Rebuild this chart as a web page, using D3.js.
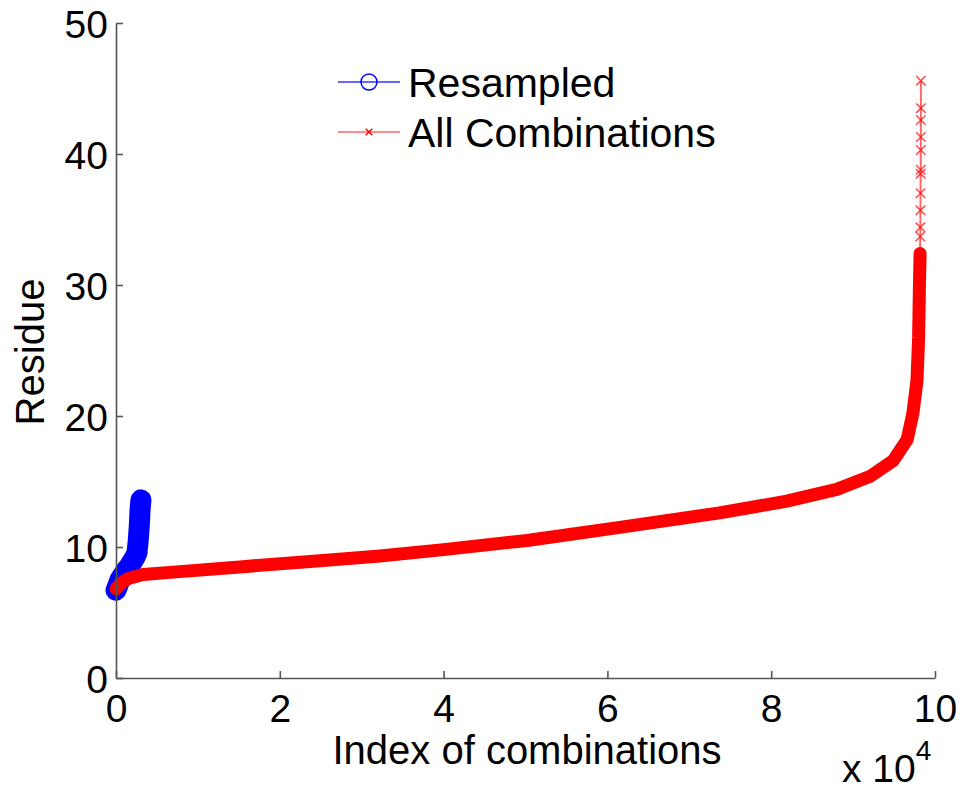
<!DOCTYPE html>
<html>
<head>
<meta charset="utf-8">
<script src="https://cdn.jsdelivr.net/npm/d3@7"></script>
<style>
  body { margin: 0; background: #fff; }
  text { font-family: "Liberation Sans", Arial, Helvetica, sans-serif; fill: #000; }
</style>
</head>
<body>
<div id="chart"></div>
<script>
// Resampled residues (sorted), index of combination
const resampledIdx = [0, 250, 490, 850, 1220, 1600, 1950, 2300, 2560, 2700, 2810, 2880, 2930, 3000, 3050];
const resampledVal = [6.7, 7.1, 7.5, 7.85, 8.2, 8.5, 8.85, 9.2, 9.55, 10.4, 11.3, 12.0, 12.8, 13.3, 13.6];

// All combinations residues (sorted)
const allIdx = [0, 500, 1500, 3300, 7400, 15500, 23700, 31900, 40000, 50200, 61500, 73700, 81900,
  88000, 92100, 94900, 96600, 97300, 97800, 98000, 98100, 98180, 98200, 98215, 98225, 98235,
  98245, 98255, 98262, 98268, 98273, 98277, 98280];
const allVal = [6.8, 7.2, 7.6, 7.9, 8.1, 8.5, 8.9, 9.3, 9.8, 10.5, 11.5, 12.6, 13.5,
  14.4, 15.4, 16.6, 18.2, 20.2, 22.7, 26.0, 30.0, 32.4, 33.7, 34.4, 35.7, 37.0,
  38.5, 38.8, 40.3, 41.3, 42.6, 43.5, 45.6];

const xTicks = [0, 20000, 40000, 60000, 80000, 100000];
const yTicks = [0, 10, 20, 30, 40, 50];
const seriesNames = ['Resampled', 'All Combinations'];

const width = 962, height = 791;
const margin = { top: 23, right: 27, bottom: 113, left: 116 };
const fontSize = 39;

const x = d3.scaleLinear().domain([0, 100000]).range([margin.left, width - margin.right]);
const y = d3.scaleLinear().domain([0, 50]).range([height - margin.bottom, margin.top]);

const svg = d3.select('#chart').append('svg')
    .attr('width', width)
    .attr('height', height);

const resampled = resampledIdx.map((d, i) => ({ x: d, y: resampledVal[i] }));
const all = allIdx.map((d, i) => ({ x: d, y: allVal[i] }));

const line = d3.line()
    .x(d => x(d.x))
    .y(d => y(d.y));

// Resampled: dense circles drawn as a thick band
svg.append('path')
    .datum(resampled)
    .attr('d', line)
    .attr('fill', 'none')
    .attr('stroke', '#0000ff')
    .attr('stroke-width', 21)
    .attr('stroke-linecap', 'round')
    .attr('stroke-linejoin', 'round');

svg.selectAll('circle.res')
    .data(resampled)
    .enter().append('circle')
    .attr('class', 'res')
    .attr('cx', d => x(d.x))
    .attr('cy', d => y(d.y))
    .attr('r', 9)
    .attr('fill', 'none')
    .attr('stroke', '#0000ff')
    .attr('stroke-width', 1.5);

// All combinations: dense markers as a band, sparse tail as markers
svg.append('path')
    .datum(all.filter(d => d.y <= 32.4))
    .attr('d', line)
    .attr('fill', 'none')
    .attr('stroke', '#ff0000')
    .attr('stroke-width', 13)
    .attr('stroke-linecap', 'round')
    .attr('stroke-linejoin', 'round');

svg.append('path')
    .datum(all)
    .attr('d', line)
    .attr('fill', 'none')
    .attr('stroke', '#ff0000')
    .attr('stroke-opacity', 0.6)
    .attr('stroke-width', 2);

const cross = d3.symbol().type(d3.symbolX).size(60);
svg.selectAll('path.cross')
    .data(all.filter(d => d.y > 32.4))
    .enter().append('path')
    .attr('class', 'cross')
    .attr('d', cross)
    .attr('transform', d => 'translate(' + x(d.x) + ',' + y(d.y) + ')')
    .attr('fill', 'none')
    .attr('stroke', '#ff0000')
    .attr('stroke-opacity', 0.7)
    .attr('stroke-width', 1.5);

// Axes (MATLAB style: ticks inside, box off)
const xAxis = svg.append('g')
    .attr('transform', 'translate(0,' + y(0) + ')')
    .call(d3.axisBottom(x).tickValues(xTicks).tickSizeInner(-7).tickSizeOuter(0)
      .tickFormat(d => d / 10000).tickPadding(16));
const yAxis = svg.append('g')
    .attr('transform', 'translate(' + x(0) + ',0)')
    .call(d3.axisLeft(y).tickValues(yTicks).tickSizeInner(-7).tickSizeOuter(0).tickPadding(8));

[xAxis, yAxis].forEach(g => {
  g.select('.domain').attr('stroke', '#555').attr('stroke-width', 1.6);
  g.selectAll('.tick line').attr('stroke', '#555').attr('stroke-width', 1.6);
  g.selectAll('.tick text')
    .style('font-size', fontSize + 'px')
    .style('font-family', '"Liberation Sans", Arial, sans-serif')
    .attr('fill', '#000');
});
yAxis.selectAll('.tick text').attr('x', -8).attr('dy', '0.36em');
xAxis.selectAll('.tick text').attr('dy', '0.71em');

// Axis labels
svg.append('text')
    .attr('x', 527)
    .attr('y', 764)
    .style('text-anchor', 'middle')
    .style('font-size', '40px')
    .text('Index of combinations');

svg.append('text')
    .attr('transform', 'translate(44,352) rotate(-90)')
    .style('text-anchor', 'middle')
    .style('font-size', '40px')
    .text('Residue');

// x 10^4 multiplier
const mult = svg.append('text')
    .attr('x', 842)
    .attr('y', 782)
    .style('font-size', fontSize + 'px');
mult.append('tspan').text('x 10');
mult.append('tspan')
    .attr('dy', -22)
    .style('font-size', '28px')
    .text('4');

// Legend
const legend = svg.append('g');
const legY = [82, 132];

legend.append('line')
    .attr('x1', 338).attr('x2', 400).attr('y1', legY[0]).attr('y2', legY[0])
    .attr('stroke', '#0000ff').attr('stroke-opacity', 0.8).attr('stroke-width', 1.5);
legend.append('circle')
    .attr('cx', 369).attr('cy', legY[0]).attr('r', 8)
    .attr('fill', 'none').attr('stroke', '#0000ff').attr('stroke-width', 1.5);

legend.append('line')
    .attr('x1', 338).attr('x2', 400).attr('y1', legY[1]).attr('y2', legY[1])
    .attr('stroke', '#ff0000').attr('stroke-opacity', 0.45).attr('stroke-width', 2);
legend.append('path')
    .attr('d', d3.symbol().type(d3.symbolX).size(30))
    .attr('transform', 'translate(369,' + legY[1] + ')')
    .attr('fill', 'none').attr('stroke', '#ff0000').attr('stroke-width', 1.5);

legend.selectAll('text')
    .data(seriesNames)
    .enter().append('text')
    .attr('x', 408)
    .attr('y', (d, i) => legY[i])
    .attr('dy', '0.36em')
    .style('font-size', '41px')
    .text(d => d);
</script>
</body>
</html>
